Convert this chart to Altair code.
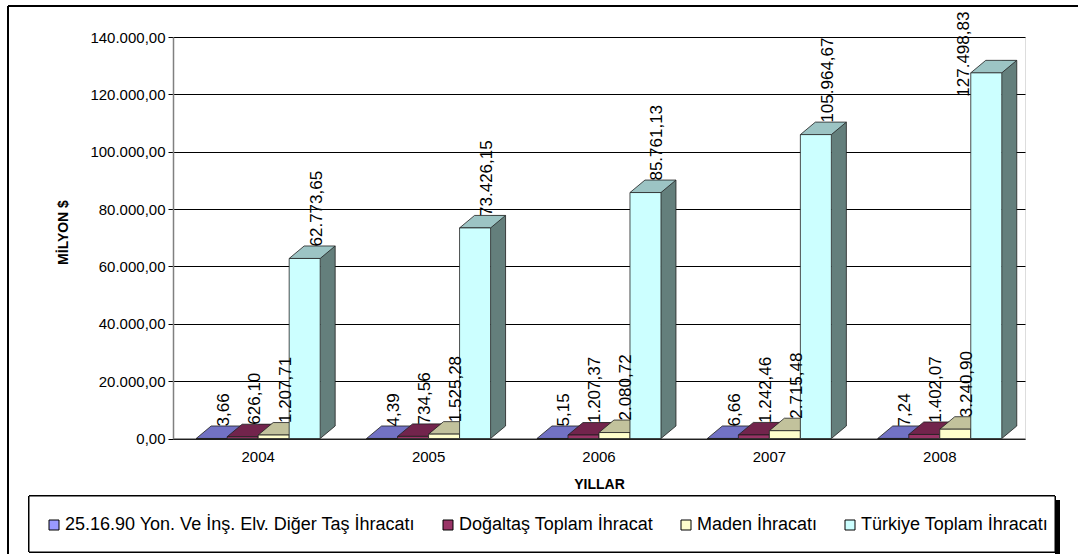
import altair as alt
import pandas as pd

years = ["2004", "2005", "2006", "2007", "2008"]
series = [
    "25.16.90 Yon. Ve İnş. Elv. Diğer Taş İhracatı",
    "Doğaltaş Toplam İhracat",
    "Maden İhracatı",
    "Türkiye Toplam İhracatı",
]
tas = [3.66, 4.39, 5.15, 6.66, 7.24]
dogaltas = [626.10, 734.56, 1207.37, 1242.46, 1402.07]
maden = [1207.71, 1525.28, 2080.72, 2715.48, 3240.90]
turkiye = [62773.65, 73426.15, 85761.13, 105964.67, 127498.83]
y_ticks = [0, 20000, 40000, 60000, 80000, 100000, 120000, 140000]

front_colors = ["#9999FF", "#993366", "#FFFFCC", "#CCFFFF"]
top_colors = ["#7272C4", "#72244C", "#C2C29C", "#9CC4C4"]
side_colors = ["#55559A", "#55183A", "#9A9A7A", "#647F7C"]

rows = []
for s, vals in zip(series, [tas, dogaltas, maden, turkiye]):
    for yr, v in zip(years, vals):
        rows.append({"yil": yr, "seri": s, "deger": v})
df = pd.DataFrame(rows)

FONT = "Liberation Sans"
DX, DY = 15, 12.5   # 3D depth in pixels
HALF = 15.5         # half bar width in pixels
GROUP = 124         # width of one year's group of bars in pixels
EDGE = "#202020"

x_enc = alt.X(
    "yil:N", title="YILLAR", sort=years,
    scale=alt.Scale(paddingInner=0.272, paddingOuter=0.136),
    axis=alt.Axis(labelAngle=0, labelFontSize=15, labelFont=FONT, labelColor="black",
                  ticks=False, labelPadding=11, domainColor="#404040", domainWidth=1,
                  titleFont=FONT, titleFontSize=14, titleFontWeight="bold", titleColor="black",
                  titleY=46, titleBaseline="middle"),
)


def xo(shift=0.0):
    return alt.XOffset("seri:N", sort=series,
                       scale=alt.Scale(type="band", domain=series, paddingInner=0, paddingOuter=0,
                                       range=[shift, GROUP + shift]))


def y_enc(field):
    return alt.Y(
        field, title="MİLYON $",
        scale=alt.Scale(domain=[0, 140000], nice=False),
        axis=alt.Axis(values=y_ticks, format=",.2f", labelFontSize=15, labelFont=FONT,
                      labelColor="black", tickColor="black", tickSize=5, labelPadding=3,
                      domainColor="#808080", domainWidth=1.5, gridColor="black", gridWidth=1,
                      titleFont=FONT, titleFontSize=14, titleFontWeight="bold", titleColor="black",
                      titleAngle=270, titleX=-110, titleY=195, titleAlign="center",
                      titleBaseline="middle"),
    )


base = alt.Chart(df)

# side face of each 3D column (shifted half a bar + half the depth to the right)
side = base.mark_rule(strokeWidth=DX, strokeCap="butt",
                      yOffset=-DY, y2Offset=-DY, opacity=1).encode(
    x=x_enc, xOffset=xo(HALF + DX / 2), y=y_enc("deger:Q"), y2=alt.Y2("zero:Q"),
    stroke=alt.Stroke("seri:N", scale=alt.Scale(domain=series, range=side_colors), legend=None),
).transform_calculate(zero="0")

side_right_edge = base.mark_rule(strokeWidth=0.8, color=EDGE,
                                 yOffset=-DY, y2Offset=-DY).encode(
    x=x_enc, xOffset=xo(HALF + DX), y=y_enc("deger:Q"), y2=alt.Y2("zero:Q"),
).transform_filter(alt.datum.seri == series[-1]).transform_calculate(zero="0")

tri_path = f"M{HALF},0 L{HALF},{-DY} L{HALF + DX},{-DY} Z"
side_tri = base.mark_point(shape=tri_path, size=4, filled=True, opacity=1, strokeWidth=0).encode(
    x=x_enc, xOffset=xo(), y=y_enc("zero:Q"),
    fill=alt.Fill("seri:N", scale=alt.Scale(domain=series, range=side_colors), legend=None),
).transform_calculate(zero="0")

side_bottom_edge = base.mark_point(shape=f"M{HALF + DX},{-DY} L{HALF},0", size=4, filled=False,
                                   opacity=1, stroke=EDGE, strokeWidth=0.8).encode(
    x=x_enc, xOffset=xo(), y=y_enc("zero:Q"),
).transform_filter(alt.datum.seri == series[-1]).transform_calculate(zero="0")

top_path = f"M{-HALF},0 L{HALF},0 L{HALF + DX},{-DY} L{-HALF + DX},{-DY} Z"
top = base.mark_point(shape=top_path, size=4, filled=True, opacity=1,
                      stroke=EDGE, strokeWidth=0.8).encode(
    x=x_enc, xOffset=xo(), y=y_enc("deger:Q"),
    fill=alt.Fill("seri:N", scale=alt.Scale(domain=series, range=top_colors), legend=None),
)

front = base.mark_bar(stroke=EDGE, strokeWidth=0.8).encode(
    x=x_enc, xOffset=xo(), y=y_enc("deger:Q"),
    color=alt.Color(
        "seri:N", sort=series,
        scale=alt.Scale(domain=series, range=front_colors),
        legend=alt.Legend(orient="none", legendX=-128, legendY=479, direction="horizontal",
                          title=None, symbolType="square", symbolSize=100,
                          symbolStrokeColor="black", symbolStrokeWidth=1, symbolOpacity=1,
                          labelFontSize=18, labelFont=FONT, labelColor="black", labelLimit=0,
                          labelOffset=2, columnPadding=23, padding=0),
    ),
)

labels = base.mark_text(
    angle=270, align="left", baseline="middle", fontSize=17, font=FONT, color="black",
    dx=12, dy=alt.ExprRef(expr="datum.deger > 115000 ? -22 : 12"),
).encode(
    x=x_enc, xOffset=xo(), y=y_enc("ly:Q"),
    text=alt.Text("deger:Q", format=",.2f"),
).transform_calculate(ly="min(datum.deger, 115000)")

# decorations: outer frame and legend box with shadow
frame_left = alt.Chart(df).mark_rule(color="black", strokeWidth=1.5).encode(
    x=alt.value(-165), y=alt.value(-31), y2=alt.value(530))
frame_top = alt.Chart(df).mark_rule(color="black", strokeWidth=1.5).encode(
    x=alt.value(-165), x2=alt.value(920), y=alt.value(-31))
legend_shadow = alt.Chart(df).mark_rect(color="black").encode(
    x=alt.value(882), x2=alt.value(887), y=alt.value(463), y2=alt.value(530))
legend_box = alt.Chart(df).mark_rect(fill="white", stroke="black", strokeWidth=1).encode(
    x=alt.value(-144), x2=alt.value(882), y=alt.value(459), y2=alt.value(515))

chart = alt.layer(frame_left, frame_top, legend_shadow, legend_box,
                  side, side_right_edge, side_tri, side_bottom_edge, top, front,
                  labels).resolve_scale(
    fill="independent", color="independent", xOffset="independent"
).properties(
    width=852, height=401.5,
    autosize=alt.AutoSizeParams(type="none"),
    padding={"left": 173, "top": 37, "right": 53, "bottom": 115},
).configure_view(stroke=None).configure(
    locale=alt.Locale(number=alt.NumberLocale(decimal=",", thousands=".", grouping=[3],
                                              currency=["", " TL"]))
)

chart.save("out.html", embed_options={"renderer": "svg", "actions": False})
